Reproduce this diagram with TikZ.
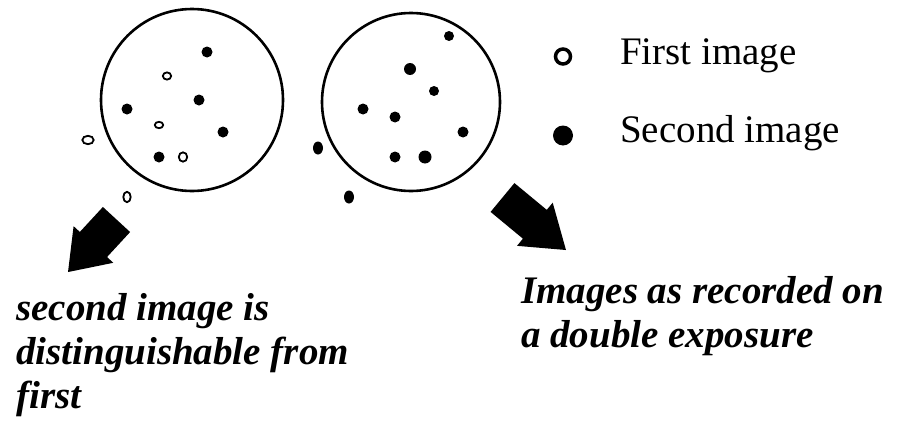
\documentclass[tikz,border=0pt]{standalone}
\usepackage{fontspec}
\setmainfont{Liberation Serif}

\begin{document}
\begin{tikzpicture}[x=1pt,y=-1pt,
    font=\fontsize{39}{44}\selectfont,
    plate/.style={line width=2.6pt},
    firstdot/.style={line width=1.8pt},
    captext/.style={inner sep=0pt,anchor=base west,align=left},
    boldcap/.style={captext,font=\fontsize{39}{44}\selectfont\bfseries\itshape}]
    \useasboundingbox (0,0) rectangle (898,423);

    % Plates
    \draw[plate] (192,100) circle[radius=91pt];
    \draw[plate] (411,102) circle[radius=89pt];

    % Left plate: both images
    \foreach \x/\y in {207/52,199/100,127/109,223/132,159/157}
        \fill (\x,\y) circle[radius=5.5pt];
    \foreach \x/\y/\a/\b in {167/76/4.2/3.6,159/125/4.2/3.2,183/157/4.2/4.7,88/140/5.7/4.2,127/197/3.7/5.2}
        \draw[firstdot] (\x,\y) ellipse[x radius=\a, y radius=\b];

    % Right plate: double exposure
    \foreach \x/\y/\a/\b in {449/36/5/5,410/69/6/6,434/91/5/5,363/109/5.5/5.5,395/117/5.5/5.5,
        463/132/5.5/5.5,395/157/5.5/5.5,425/157/6.5/6.5,318/148/5/6.5,349/197/5/6.5}
        \fill (\x,\y) ellipse[x radius=\a, y radius=\b];

    % Legend
    \draw[line width=3.5pt] (563,56.5) circle[radius=7.5pt];
    \fill (563,135.5) circle[radius=10pt];
    \node[captext] (first) at (620,64) {First image};
    \node[captext] (second) at (620,142) {Second image};

    % Arrows
    \begin{scope}[shift={(116.5,219.5)},rotate=227.3]
        \fill (0,-18.5) -- (34,-18.5) -- (34,-27) -- (71.5,0) -- (34,27) -- (34,18.5) -- (0,18.5) -- cycle;
    \end{scope}
    \begin{scope}[shift={(502.5,197.5)},rotate=-39.6]
        \fill (0,-18.7) -- (42,-18.7) -- (42,-28) -- (82.4,0) -- (42,28) -- (42,18.7) -- (0,18.7) -- cycle;
    \end{scope}

    % Captions (base is the last line)
    \node[boldcap] (distinct) at (16,408) {second image is\\distinguishable from\\first};
    \node[boldcap] (recorded) at (521,347) {Images as recorded on\\a double exposure};
\end{tikzpicture}
\end{document}
